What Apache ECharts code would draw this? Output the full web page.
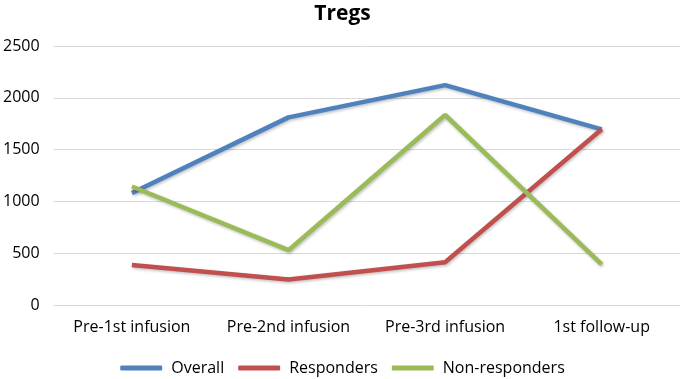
<!DOCTYPE html>
<html><head><meta charset="utf-8">
<script src="https://cdn.jsdelivr.net/npm/echarts@6/dist/echarts.min.js"></script>
<style>html,body{margin:0;padding:0;background:#fff}#c{width:685px;height:379px}</style>
</head><body><div id="c"></div>
<script>
const categories = ["Pre-1st infusion", "Pre-2nd infusion", "Pre-3rd infusion", "1st follow-up"];
const overall = [1081, 1811, 2122, 1696];
const responders = [385, 247, 413, 1696];
const nonResponders = [1144, 529, 1834, 391];
const yTicks = [0, 500, 1000, 1500, 2000, 2500];

const chart = echarts.init(document.getElementById('c'), null, {renderer: 'canvas'});
const font = '"Open Sans", sans-serif';
function s(name, data, color) {
  return {
    name, type: 'line', data, symbol: 'none', smooth: false,
    lineStyle: {width: 4.5, color, shadowColor: 'rgba(0,0,0,0.25)', shadowBlur: 3, shadowOffsetX: 1, shadowOffsetY: 1.5},
    itemStyle: {color}
  };
}
chart.setOption({
  animation: false,
  title: {text: 'Tregs', left: 'center', top: -1,
    textStyle: {fontFamily: font, fontWeight: 'bold', fontSize: 21, color: '#000'}},
  grid: {left: 53, right: 5, top: 46, bottom: 74, containLabel: false},
  legend: {bottom: -2, left: 'center', itemWidth: 42, itemHeight: 5, itemGap: 14,
    icon: 'roundRect',
    textStyle: {fontFamily: font, fontSize: 16, color: '#000', padding: [0, 0, 0, 4]},
    data: ['Overall', 'Responders', 'Non-responders']},
  xAxis: {type: 'category', data: categories, boundaryGap: true,
    axisLine: {show: false}, axisTick: {show: false},
    axisLabel: {fontFamily: font, fontSize: 16, color: '#000', margin: 14, interval: 0}},
  yAxis: {type: 'value', min: yTicks[0], max: yTicks[yTicks.length-1], interval: 500,
    axisLine: {show: false}, axisTick: {show: false},
    axisLabel: {fontFamily: font, fontSize: 16, color: '#000', margin: 14, formatter: v => String(v)},
    splitLine: {lineStyle: {color: '#d9d9d9', width: 1}}},
  series: [s('Overall', overall, '#4F81BD'), s('Responders', responders, '#C0504D'), s('Non-responders', nonResponders, '#9BBB59')]
});
</script></body></html>
